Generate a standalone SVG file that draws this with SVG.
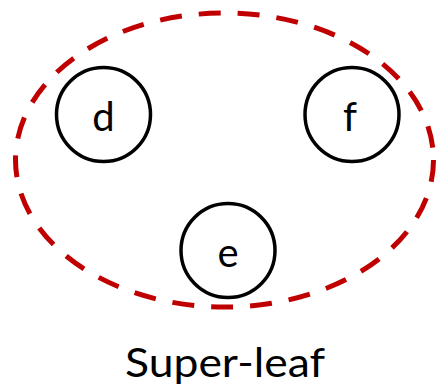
<svg xmlns="http://www.w3.org/2000/svg" width="436" height="387" viewBox="0 0 436 387">
<style>
.node circle{fill:#fff;stroke:#000;stroke-width:3.5}
.lbl{font-family:Lato,"Liberation Sans",sans-serif;font-size:40px;fill:#000;text-anchor:middle}
</style>
<rect width="436" height="387" fill="#fff"/>
<g id="connectors"></g>
<g id="group">
<ellipse cx="224.5" cy="160" rx="209" ry="147" fill="none" stroke="#C00000" stroke-width="5" stroke-dasharray="22 17"/>
</g>
<g id="node-d" class="node"><circle cx="103.5" cy="114.5" r="47"/><text class="lbl" x="103.5" y="131">d</text></g>
<g id="node-f" class="node"><circle cx="352" cy="114.5" r="47"/><text class="lbl" x="350" y="131">f</text></g>
<g id="node-e" class="node"><circle cx="228" cy="250.5" r="47"/><text class="lbl" x="228" y="267">e</text></g>
<text class="lbl" x="225" y="377" textLength="200" lengthAdjust="spacingAndGlyphs">Super-leaf</text>
</svg>
